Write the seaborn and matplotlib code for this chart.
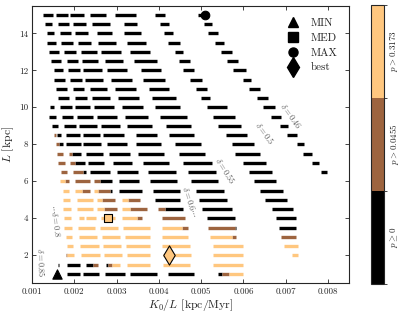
import numpy as np
import pandas as pd
import matplotlib
matplotlib.use("Agg")
import matplotlib.pyplot as plt
from matplotlib.colors import ListedColormap, BoundaryNorm
from matplotlib.cm import ScalarMappable
from matplotlib.lines import Line2D
from matplotlib.ticker import FormatStrFormatter
import seaborn as sns

# scan runs: (L [kpc], K0/L start, K0/L end) with K0/L in 1e-3 kpc/Myr
black_runs = [
    (15, 1.26, 1.50), (15, 1.57, 1.85), (15, 1.90, 2.23), (15, 2.37, 2.75), (15, 2.96, 3.45), (15, 3.92, 4.14), (15, 4.92, 5.13),
    (14.5, 1.31, 1.47), (14.5, 1.61, 1.87), (14.5, 1.97, 2.27), (14.5, 2.42, 2.84), (14.5, 3.17, 3.48), (14.5, 4.02, 4.23), (14.5, 5.06, 5.25),
    (14, 1.35, 1.52), (14, 1.66, 1.92), (14, 2.01, 2.32), (14, 2.53, 2.89), (14, 3.17, 3.57), (14, 4.11, 4.33), (14, 5.17, 5.39),
    (13.5, 1.35, 1.57), (13.5, 1.68, 1.97), (13.5, 2.08, 2.39), (13.5, 2.56, 2.98), (13.5, 3.24, 3.69), (13.5, 4.21, 4.49), (13.5, 5.32, 5.53),
    (13, 1.40, 1.64), (13, 1.75, 2.04), (13, 2.16, 2.53), (13, 2.63, 3.10), (13, 3.31, 3.78), (13, 4.37, 4.58), (13, 5.48, 5.72),
    (12.5, 1.45, 1.68), (12.5, 1.83, 2.08), (12.5, 2.18, 2.56), (12.5, 2.72, 3.15), (12.5, 3.41, 3.95), (12.5, 4.47, 4.73), (12.5, 5.62, 5.86),
    (12, 1.52, 1.73), (12, 1.85, 2.13), (12, 2.20, 2.65), (12, 2.77, 3.24), (12, 3.57, 4.04), (12, 4.56, 4.84), (12, 5.76, 6.05),
    (11.5, 1.52, 1.78), (11.5, 1.90, 2.18), (11.5, 2.25, 2.67), (11.5, 2.86, 3.36), (11.5, 3.62, 4.14), (11.5, 4.73, 5.01), (11.5, 5.98, 6.19),
    (11, 1.57, 1.83), (11, 1.97, 2.23), (11, 2.37, 2.77), (11, 2.96, 3.45), (11, 3.76, 4.23), (11, 4.89, 5.15), (11, 6.12, 6.40),
    (10.5, 1.61, 1.87), (10.5, 2.01, 2.30), (10.5, 2.42, 2.84), (10.5, 3.03, 3.52), (10.5, 3.83, 4.40), (10.5, 4.99, 5.20), (10.5, 6.31, 6.57),
    (10, 1.42, 1.52), (10, 1.66, 1.94), (10, 2.01, 2.37), (10, 2.46, 2.93), (10, 3.12, 3.62), (10, 3.92, 4.49), (10, 5.13, 5.62), (10, 6.47, 6.75),
    (9.5, 1.40, 1.57), (9.5, 1.71, 1.97), (9.5, 2.06, 2.44), (9.5, 2.53, 3.00), (9.5, 3.19, 3.74), (9.5, 4.02, 4.66), (9.5, 5.27, 5.79), (9.5, 6.66, 6.90),
    (9, 1.47, 1.61), (9, 1.75, 2.04), (9, 2.11, 2.53), (9, 2.63, 3.08), (9, 3.24, 3.83), (9, 4.16, 4.75), (9, 5.41, 5.95), (9, 6.87, 7.06),
    (8.5, 1.59, 1.68), (8.5, 1.80, 2.13), (8.5, 2.20, 2.60), (8.5, 2.67, 3.17), (8.5, 3.45, 3.95), (8.5, 4.25, 4.84), (8.5, 5.58, 6.09), (8.5, 7.04, 7.27),
    (8, 1.64, 1.73), (8, 1.80, 2.16), (8, 2.20, 2.63), (8, 2.77, 3.24), (8, 3.45, 4.04), (8, 4.37, 4.99), (8, 5.72, 6.26), (8, 7.27, 7.44),
    (7.5, 1.94, 2.16), (7.5, 2.27, 2.67), (7.5, 2.82, 3.31), (7.5, 3.50, 4.11), (7.5, 4.47, 5.08), (7.5, 5.79, 6.40), (7.5, 7.42, 7.63),
    (7, 2.01, 2.25), (7, 2.32, 2.70), (7, 2.91, 3.36), (7, 3.62, 4.25), (7, 4.56, 5.25), (7, 5.98, 6.54), (7, 7.63, 7.79),
    (6.5, 2.20, 2.27), (6.5, 2.37, 2.84), (6.5, 3.00, 3.50), (6.5, 3.74, 4.40), (6.5, 4.68, 5.34), (6.5, 6.12, 6.68), (6.5, 7.84, 7.98),
    (6, 2.60, 2.89), (6, 3.05, 3.52), (6, 3.78, 4.44), (6, 4.77, 5.41), (6, 6.26, 6.78),
    (5.5, 2.84, 2.89), (5.5, 3.05, 3.59), (5.5, 3.85, 4.49), (5.5, 4.89, 5.55), (5.5, 6.38, 6.94),
    (5, 3.92, 4.49), (5, 4.96, 5.62), (5, 6.52, 7.04),
    (4.5, 4.14, 4.56), (4.5, 5.03, 5.72), (4.5, 6.68, 7.18),
    (4, 5.13, 5.79), (4, 6.78, 7.25),
    (3.5, 5.79, 5.83), (3.5, 6.83, 7.25),
    (1.5, 1.61, 1.64), (1.5, 1.83, 2.13), (1.5, 2.27, 2.44), (1.5, 2.75, 2.79),
    (1, 1.83, 2.13), (1, 2.20, 2.58), (1, 2.72, 3.19), (1, 3.31, 3.95), (1, 4.21, 4.84), (1, 5.41, 5.50),
]

brown_runs = [
    (8.5, 1.52, 1.57), (8, 1.57, 1.64),
    (7.5, 1.59, 1.73), (7.5, 1.87, 1.94),
    (7, 1.61, 1.78), (7, 1.90, 2.01),
    (6.5, 1.68, 1.83), (6.5, 1.97, 2.20),
    (6, 1.78, 1.87), (6, 2.01, 2.37), (6, 2.46, 2.60),
    (5.5, 2.18, 2.37), (5.5, 2.56, 2.84),
    (5, 2.65, 2.96), (5, 3.26, 3.55),
    (4.5, 2.70, 3.00), (4.5, 3.31, 3.71), (4.5, 3.97, 4.14),
    (4, 3.48, 3.59), (4, 4.07, 4.61),
    (3.5, 4.54, 4.68), (3.5, 5.17, 5.79),
    (3, 5.72, 5.83), (3, 6.90, 7.25),
    (2, 1.80, 1.83),
    (1.5, 2.44, 2.56), (1.5, 2.79, 2.89),
    (1, 5.50, 5.67),
]

light_runs = [
    (6, 1.66, 1.78),
    (5.5, 1.73, 1.87), (5.5, 2.01, 2.18), (5.5, 2.46, 2.56),
    (5, 1.73, 1.90), (5, 2.06, 2.44), (5, 2.53, 2.65), (5, 3.12, 3.26),
    (4.5, 1.73, 1.92), (4.5, 2.06, 2.44), (4.5, 2.53, 2.70), (4.5, 3.12, 3.31),
    (4, 1.75, 1.92), (4, 2.11, 2.23), (4, 2.27, 2.51), (4, 2.63, 2.96), (4, 3.12, 3.48),
    (3.5, 1.75, 1.94), (3.5, 2.08, 2.49), (3.5, 2.60, 3.03), (3.5, 3.15, 3.78), (3.5, 4.07, 4.54),
    (3, 1.80, 1.94), (3, 2.11, 2.53), (3, 2.65, 3.08), (3, 3.19, 3.78), (3, 4.07, 4.68), (3, 5.22, 5.72),
    (2.5, 1.83, 1.97), (2.5, 2.13, 2.58), (2.5, 2.67, 3.10), (2.5, 3.22, 3.78), (2.5, 4.07, 4.73), (2.5, 5.27, 5.98), (2.5, 6.97, 7.30),
    (2, 1.83, 1.99), (2, 2.16, 2.60), (2, 2.70, 3.12), (2, 3.24, 3.78), (2, 4.09, 4.77), (2, 5.27, 5.98), (2, 7.16, 7.30),
    (1.5, 2.89, 3.08), (1.5, 3.24, 3.78), (1.5, 4.09, 4.73), (1.5, 5.27, 5.98),
    (1, 5.67, 5.98),
]

# special points (K0/L in 1e-3 kpc/Myr, L in kpc, p class)
special_names = ["MIN", "MED", "MAX", "best"]
special_x = [1.60, 2.80, 5.08, 4.25]
special_L = [1.0, 4.0, 15.0, 2.0]
special_p = [0, 2, 0, 2]
special_marker = ["^", "s", "o", "d"]

# delta labels
delta_text = [r"$\delta = 0.46$", r"$\delta = 0.5$", r"$\delta = 0.55$",
              r"$\delta = 0.6\cdots$", r"$\cdots\delta = 0.8$", r"$\delta = 0.85$"]
delta_x = [7.11, 6.50, 5.58, 4.73, 1.54, 1.21]
delta_L = [9.54, 8.60, 6.58, 4.86, 3.84, 1.58]
delta_rot = [-54, -54, -58, -72, -82, -88]

p_labels = [r"$p \geq 0$", r"$p > 0.0455$", r"$p > 0.3173$"]

cmap = plt.get_cmap("copper", 3)
p_colors = [cmap(i) for i in range(3)]

runs = []
for p, rr in enumerate([black_runs, brown_runs, light_runs]):
    for L, lo, hi in rr:
        runs.append({"L": L, "lo": lo * 1e-3, "hi": hi * 1e-3, "p": p})
df = pd.DataFrame(runs)

sns.set_style("ticks")
plt.rcParams["font.family"] = "serif"
plt.rcParams["font.serif"] = ["cmr10", "DejaVu Serif"]
plt.rcParams["mathtext.fontset"] = "cm"
plt.rcParams["axes.unicode_minus"] = False

fig = plt.figure(figsize=(4.03, 3.16), dpi=100)
ax = fig.add_axes([0.0794, 0.1044, 0.787, 0.878])
cax = fig.add_axes([0.9206, 0.1013, 0.0323, 0.883])

for p in range(3):
    d = df[df["p"] == p]
    ax.hlines(d["L"], d["lo"], d["hi"], colors=[p_colors[p]], linewidth=2.4)

marker_s = {"^": 45, "s": 36, "o": 38, "d": 95}
for i in range(len(special_names)):
    sns.scatterplot(x=[special_x[i] * 1e-3], y=[special_L[i]], ax=ax,
                    marker=special_marker[i], color=p_colors[special_p[i]],
                    edgecolor="black", linewidth=0.8,
                    s=marker_s[special_marker[i]], zorder=5, legend=False)

for t, x, L, r in zip(delta_text, delta_x, delta_L, delta_rot):
    ax.text(x * 1e-3, L, t, rotation=r, ha="center", va="center",
            fontsize=6, color="#555555")

handles = [Line2D([], [], linestyle="none", marker=m, color="black",
                  markersize=6.5 if m != "d" else 10)
           for m in special_marker]
ax.legend(handles, special_names, loc="upper right", frameon=False,
          fontsize=8, handletextpad=0.6, labelspacing=0.45,
          bbox_to_anchor=(0.995, 0.99))

ax.set_xlim(0.001, 0.0085)
ax.set_ylim(0.5, 15.5)
ax.set_xticks(np.arange(1, 9) * 1e-3)
ax.set_yticks([2, 4, 6, 8, 10, 12, 14])
ax.xaxis.set_major_formatter(FormatStrFormatter("%.3f"))
ax.tick_params(direction="in", top=True, right=True, length=3,
               width=0.6, labelsize=6.5, pad=3)
for s in ax.spines.values():
    s.set_linewidth(0.8)
ax.set_xlabel(r"$K_0/L$ [kpc/Myr]", fontsize=8.5, labelpad=1)
ax.set_ylabel(r"$L$ [kpc]", fontsize=8.5, labelpad=2)

norm = BoundaryNorm([0, 1, 2, 3], 3)
sm = ScalarMappable(cmap=ListedColormap(p_colors), norm=norm)
cb = fig.colorbar(sm, cax=cax, ticks=[0.5, 1.5, 2.5])
cb.ax.set_yticklabels(p_labels, rotation=90, va="center")
cb.ax.tick_params(direction="in", length=2.5, width=0.6, labelsize=6.5, pad=3)
cb.outline.set_linewidth(0.8)

fig.savefig("out.png", dpi=100)
